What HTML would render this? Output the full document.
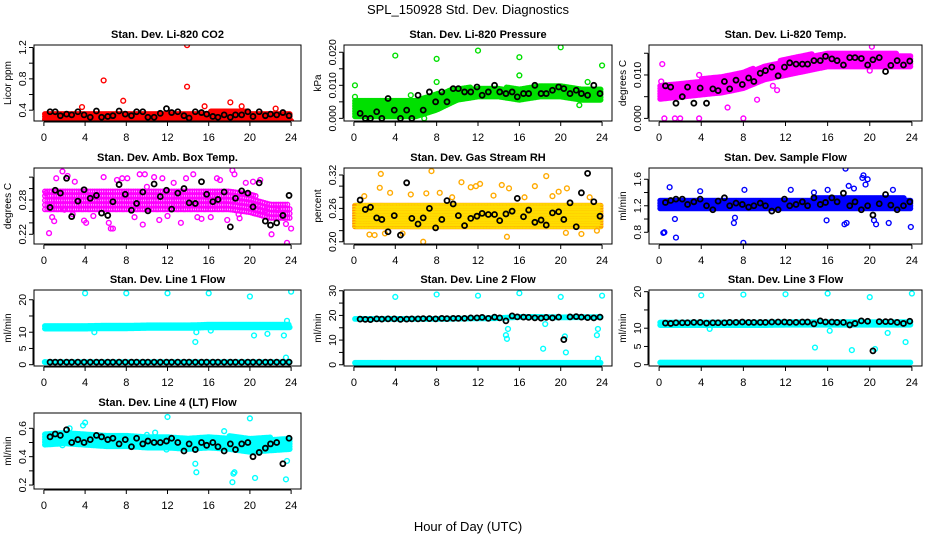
<!DOCTYPE html>
<html><head><meta charset="utf-8"><style>
html,body{margin:0;padding:0;background:#fff;}
svg{display:block;font-family:"Liberation Sans",sans-serif;}
</style></head><body>
<svg id="chart" width="936" height="540" viewBox="0 0 936 540" xmlns="http://www.w3.org/2000/svg">
<text x="468" y="14" text-anchor="middle" font-size="13">SPL_150928  Std. Dev. Diagnostics</text>
<text x="468" y="531" text-anchor="middle" font-size="13">Hour of Day (UTC)</text>
</svg>
<script>
const xTicks = [0,4,8,12,16,20,24];
const bandHours = [0,2,4,6,8,10,12,14,16,18,20,22,24];
const blackHours = [0.6,1.1,1.6,2.2,2.7,3.3,3.9,4.5,5.1,5.6,6.2,6.7,7.3,7.9,8.5,9.0,9.6,10.1,10.7,11.3,11.9,12.4,13.0,13.6,14.1,14.7,15.3,15.8,16.4,16.9,17.5,18.1,18.6,19.2,19.8,20.3,20.9,21.5,22.0,22.6,23.2,23.8];

const titles = ["Stan. Dev. Li-820 CO2","Stan. Dev. Li-820 Pressure","Stan. Dev. Li-820 Temp.","Stan. Dev. Amb. Box Temp.","Stan. Dev. Gas Stream RH","Stan. Dev. Sample Flow","Stan. Dev. Line 1 Flow","Stan. Dev. Line 2 Flow","Stan. Dev. Line 3 Flow","Stan. Dev. Line 4 (LT) Flow"];
const yTitles = ["Licor ppm","kPa","degrees C","degrees C","percent","ml/min","ml/min","ml/min","ml/min","ml/min"];
const yMins = [0.262,-0.0008,-0.0006,0.203,0.196,0.623,-0.4,-0.5,-0.35,0.172];
const yMaxs = [1.232,0.0222,0.0169,0.336,0.3326,1.77,23.0,30.3,20.46,0.708];
const yTickVals = [[0.4,0.6,0.8,1.0,1.2],[0,0.005,0.01,0.015,0.02],[0,0.005,0.01,0.015],[0.22,0.24,0.26,0.28,0.30,0.32],[0.20,0.22,0.24,0.26,0.28,0.30,0.32],[0.8,1.0,1.2,1.4,1.6],[0,5,10,15,20],[0,5,10,15,20,25,30],[0,5,10,15,20],[0.2,0.3,0.4,0.5,0.6]];
const yTickLabels = [["0.4","","0.8","","1.2"],["0.000","","0.010","","0.020"],["0.000","","0.010",""],["0.22","","","0.28","",""],["0.20","","","0.26","","","0.32"],["0.8","","1.2","","1.6"],["0","5","10","","20"],["0","","10","","20","","30"],["0","5","10","","20"],["0.2","","0.4","","0.6"]];
const colors = ["#ff0000","#00e000","#ff00ff","#ff00ff","#ffaa00","#0000ff","#00ffff","#00ffff","#00ffff","#00ffff"];

const bandLo = [
 [0.26,0.26,0.26,0.26,0.26,0.26,0.26,0.26,0.26,0.26,0.26,0.26,0.26],
 [0,0,0,0,0.002,0.005,0.006,0.006,0.005,0.006,0.006,0.005,0.005],
 [0.004,0.0045,0.005,0.0055,0.0065,0.0085,0.0095,0.0105,0.0115,0.0115,0.0115,0.0115,0.0115],
 [0.26,0.26,0.26,0.26,0.26,0.26,0.26,0.26,0.26,0.26,0.255,0.245,0.245],
 [0.224,0.224,0.224,0.224,0.224,0.224,0.224,0.224,0.224,0.224,0.224,0.224,0.224],
 [1.13,1.13,1.13,1.13,1.13,1.13,1.13,1.13,1.13,1.13,1.13,1.13,1.13],
 [10.5,10.5,10.5,10.6,10.6,10.7,10.7,10.7,10.9,10.9,10.9,10.9,10.9],
 [17.8,17.8,17.8,17.8,17.8,17.9,18.0,18.1,18.6,18.6,18.4,18.6,18.6],
 [10.3,10.3,10.3,10.3,10.3,10.3,10.4,10.4,10.4,10.4,10.4,10.4,10.4],
 [0.47,0.48,0.47,0.46,0.46,0.45,0.45,0.44,0.45,0.44,0.42,0.43,0.44]
];
const bandHi = [
 [0.40,0.40,0.41,0.40,0.41,0.40,0.41,0.40,0.41,0.42,0.41,0.41,0.40],
 [0.006,0.006,0.006,0.006,0.008,0.010,0.010,0.010,0.010,0.0105,0.0105,0.010,0.010],
 [0.0085,0.0085,0.0095,0.0105,0.0115,0.0125,0.0142,0.0152,0.0155,0.0155,0.0155,0.0155,0.0152],
 [0.305,0.305,0.305,0.305,0.305,0.305,0.305,0.305,0.305,0.305,0.295,0.28,0.275],
 [0.272,0.272,0.272,0.272,0.272,0.272,0.272,0.272,0.272,0.272,0.272,0.272,0.272],
 [1.34,1.34,1.34,1.34,1.34,1.34,1.34,1.34,1.36,1.36,1.36,1.36,1.34],
 [12.7,12.7,12.7,12.8,12.8,12.9,12.9,12.9,13.3,13.3,13.3,13.3,12.9],
 [19.4,19.4,19.4,19.4,19.4,19.5,19.6,19.7,20.2,20.2,20.0,20.0,20.0],
 [12.2,12.2,12.2,12.2,12.2,12.2,12.3,12.3,12.4,12.5,12.4,12.4,12.4],
 [0.58,0.59,0.58,0.57,0.57,0.57,0.56,0.56,0.56,0.56,0.54,0.55,0.55]
];
const band2Lo = [null,null,null,null,null,null,[0.2,0.2,0.2,0.2,0.2,0.2,0.2,0.2,0.2,0.2,0.2,0.2,0.2],[0,0,0,0,0,0,0,0,0,0,0,0,0],[0.1,0.1,0.1,0.1,0.1,0.1,0.1,0.1,0.1,0.1,0.1,0.1,0.1],null];
const band2Hi = [null,null,null,null,null,null,[1.4,1.4,1.4,1.4,1.4,1.4,1.4,1.4,1.4,1.4,1.4,1.4,1.4],[1.6,1.6,1.6,1.6,1.6,1.6,1.6,1.6,1.6,1.6,1.6,1.6,1.6],[1.1,1.1,1.1,1.1,1.1,1.1,1.1,1.1,1.1,1.1,1.1,1.1,1.1],null];

const blackVals = [
 [0.38,0.38,0.33,0.35,0.34,0.38,0.34,0.31,0.39,0.31,0.32,0.33,0.39,0.35,0.33,0.38,0.38,0.31,0.31,0.36,0.42,0.37,0.38,0.33,0.30,0.38,0.37,0.35,0.32,0.31,0.34,0.31,0.34,0.34,0.38,0.32,0.38,0.33,0.35,0.34,0.37,0.33],
 [0.0015,0,0,0.002,0,0.006,0.0025,0,0.0025,0,0.007,0.0025,0.008,0.005,0.008,0.005,0.009,0.009,0.008,0.008,0.0095,0.007,0.008,0.010,0.008,0.0075,0.008,0.0065,0.0075,0.0075,0.010,0.0075,0.0075,0.0085,0.0095,0.009,0.0075,0.0085,0.0075,0.007,0.010,0.0075],
 [0.0075,0.0072,0.0035,0.005,0.0072,0.0035,0.007,0.0035,0.0068,0.0064,0.0085,0.0068,0.0088,0.0078,0.0093,0.0085,0.0104,0.011,0.0118,0.0098,0.0118,0.0128,0.0125,0.0125,0.0125,0.0133,0.0133,0.0143,0.0137,0.0133,0.0123,0.014,0.014,0.0138,0.0123,0.0135,0.014,0.0108,0.0122,0.0133,0.0123,0.0132],
 [0.267,0.297,0.292,0.318,0.251,0.278,0.298,0.283,0.288,0.257,0.253,0.277,0.307,0.29,0.262,0.274,0.294,0.261,0.308,0.286,0.297,0.264,0.292,0.300,0.275,0.274,0.312,0.29,0.277,0.281,0.294,0.233,0.283,0.296,0.292,0.268,0.310,0.243,0.236,0.240,0.253,0.288],
 [0.275,0.258,0.262,0.243,0.240,0.218,0.247,0.212,0.306,0.242,0.232,0.243,0.260,0.225,0.240,0.274,0.268,0.247,0.229,0.242,0.246,0.251,0.249,0.249,0.238,0.250,0.255,0.278,0.245,0.257,0.235,0.239,0.230,0.252,0.254,0.240,0.270,0.227,0.288,0.323,0.272,0.246],
 [1.25,1.28,1.3,1.3,1.22,1.26,1.3,1.2,1.14,1.27,1.32,1.2,1.24,1.22,1.18,1.2,1.24,1.2,1.12,1.14,1.3,1.2,1.22,1.26,1.2,1.32,1.22,1.25,1.32,1.26,1.39,1.2,1.26,1.14,1.2,1.06,1.23,1.37,1.21,1.14,1.2,1.26],
 [0.8,0.8,0.8,0.8,0.8,0.8,0.8,0.8,0.8,0.8,0.8,0.8,0.8,0.8,0.8,0.8,0.8,0.8,0.8,0.8,0.8,0.8,0.8,0.8,0.8,0.8,0.8,0.8,0.8,0.8,0.8,0.8,0.8,0.8,0.8,0.8,0.8,0.8,0.8,0.8,0.8,0.8],
 [18.5,18.4,18.3,18.6,18.5,18.6,18.6,18.4,18.5,18.6,18.6,18.7,18.7,18.6,18.8,18.7,18.8,18.8,18.8,19.0,19.0,19.2,18.8,19.3,19.0,17.8,19.8,19.4,19.3,19.2,19.0,18.9,19.2,19.0,19.3,10.2,19.4,19.5,19.3,19.1,19.0,19.3],
 [11.4,11.3,11.5,11.5,11.5,11.6,11.6,11.4,11.5,11.5,11.5,11.6,11.6,11.7,11.6,11.6,11.6,11.6,11.7,11.7,11.7,11.6,11.6,11.7,11.7,11.2,12.0,11.7,11.7,11.6,11.6,10.9,11.3,12.0,11.9,3.8,11.8,11.8,11.8,11.6,11.3,11.9],
 [0.54,0.56,0.55,0.59,0.50,0.52,0.50,0.52,0.55,0.54,0.52,0.53,0.49,0.52,0.47,0.53,0.49,0.51,0.50,0.50,0.51,0.53,0.50,0.44,0.49,0.45,0.50,0.48,0.50,0.47,0.44,0.49,0.45,0.49,0.50,0.40,0.43,0.46,0.49,0.50,0.35,0.53]
];

const outHours = [
 [5.8,13.9,13.9,7.7,3.7,18.1,15.6,12.7,24,14.4,19.2,22.5],
 [0.1,4,8,8,12,16,16,20,24,21.8,22.6,0.1,0.3,1.2,2.4,6.8,5.5],
 [0.5,1.5,2,3.8,8,6.5,0.3,9.3,20.2,20,0.2,3.8,10.8,11.2],
 [0.5,2.3,1.8,0.2,1.0,2.0,3.9,4.1,6.3,6.5,7.1,8.1,9.3,9.6,9.8,11.2,12.6,13.3,14.5,15.3,17.8,18.3,18.5,19.6,20.3,21.5,22.1,22.7,23.5,23.6,24.0,5.2,6.7,10.0,17.1,1.2,3.0,4.8,7.6,8.8,10.7,12.0,13.8,16.2,16.8,19.0,21.0,0.8,2.8,5.8,11.5,14.9,18.9],
 [2.6,2.5,1.5,2.0,3.5,7.5,7.0,6.7,8.3,10.4,12.2,14.3,14.8,15.0,18.6,17.5,20.5,20.6,19.2,22.0,23.5,4.7,11.3,11.8,1.0,3.0,5.5,9.5,13.5,16.5,19.8,22.8],
 [0.4,0.5,1.6,8,1.0,1.5,3.9,7.2,7.1,8.1,15.9,17.7,17.8,17.6,18.0,19.3,19.4,19.6,19.8,20.4,20.6,21.8,22.2,23.9,12.5,14.7,16.0,18.5],
 [4,8,12,16,20,24,14.7,14.8,16.2,20.4,21.7,23.3,23.5,23.6,4.9,0.1],
 [4,8,12,16,20,24,14.7,14.8,14.9,18.3,20.5,20.4,23.5,23.6,23.6,18.5],
 [4,8,12,16,20,24,14.8,18.3,20.5,16.2,4.8,21.7,23.4],
 [4,12,20,14.7,14.8,18.3,18.4,18.5,20.5,23.5,23.6,3.8,11.9,2.5,10.8,17.5,1.8,5.5]
];
const outVals = [
 [0.78,1.23,0.70,0.52,0.44,0.50,0.45,0.24,0.26,0.26,0.45,0.42],
 [0.010,0.019,0.018,0.011,0.0205,0.0185,0.013,0.0215,0.016,0.004,0.011,0.0065,0.0015,0.003,0.0015,0,0.007],
 [0,0,0,0,0,0.0025,0.0125,0.0043,0.0165,0.011,0.0085,0.010,0.0075,0.0065],
 [0.222,0.322,0.33,0.292,0.243,0.263,0.244,0.24,0.24,0.23,0.315,0.318,0.325,0.237,0.325,0.245,0.31,0.24,0.325,0.247,0.245,0.332,0.325,0.31,0.312,0.262,0.22,0.262,0.238,0.205,0.23,0.285,0.23,0.303,0.315,0.318,0.312,0.252,0.318,0.25,0.32,0.252,0.318,0.25,0.318,0.248,0.315,0.25,0.255,0.32,0.318,0.25,0.255],
 [0.322,0.297,0.213,0.212,0.288,0.327,0.287,0.20,0.288,0.307,0.304,0.302,0.209,0.296,0.318,0.3,0.216,0.296,0.282,0.214,0.22,0.215,0.298,0.3,0.282,0.215,0.285,0.28,0.283,0.28,0.29,0.28],
 [0.79,0.80,0.72,0.64,1.48,1.0,1.42,1.02,0.94,1.44,0.98,1.76,0.94,0.92,1.50,1.62,1.66,1.52,1.60,0.98,0.92,0.94,1.44,0.88,1.44,1.40,1.44,1.46],
 [22,22,22,22,21,22.5,7,10,10.5,9,9.5,9,2.2,13.5,10,0.8],
 [27.5,28.5,28,29,27.5,28,12,10.5,14.5,6.5,5,11.5,12,14.5,2.5,16.5],
 [19,19.2,19.3,19.5,18.5,19.5,4.7,4,4.3,9.3,9.8,8.7,6.2],
 [0.64,0.68,0.67,0.35,0.29,0.22,0.28,0.29,0.25,0.24,0.37,0.62,0.45,0.60,0.57,0.58,0.48,0.48]
];

const colLeft = [34,344,649], colRight = [301,612,922];
const rowTop = [45,168,290,413], boxH = 76;
const NS = "http://www.w3.org/2000/svg";
const svg = document.getElementById('chart');
function mk(tag, attrs, parent){ const e=document.createElementNS(NS,tag); for(const k in attrs) e.setAttribute(k,attrs[k]); (parent||svg).appendChild(e); return e; }
function interp(arr,h){ const i=Math.min(Math.floor(h/2),11); const f=(h-bandHours[i])/2; return arr[i]+(arr[i+1]-arr[i])*f; }

for(let p=0;p<10;p++){
  const col=p%3, row=Math.floor(p/3);
  const L=colLeft[col], R=colRight[col], T=rowTop[row], B=T+boxH, W=R-L;
  const xScale = h => L + (h/24*(1/1.08) + 0.04/1.08)*W;
  const yScale = v => B - (v-yMins[p])/(yMaxs[p]-yMins[p])*boxH;
  const g = mk('g',{});
  
  
  const clip = mk('clipPath',{id:'c'+p},g); mk('rect',{x:L,y:T,width:W,height:boxH},clip);
  const t = mk('text',{x:(L+R)/2,y:T-7,'text-anchor':'middle','font-size':'11','font-weight':'bold'},g);
  t.textContent=titles[p];
  
  
  const yt = mk('text',{transform:`translate(${L-23},${(T+B)/2}) rotate(-90)`,'text-anchor':'middle','font-size':'10'},g);
  yt.textContent=yTitles[p];
  
  
  const mg = mk('g',{'clip-path':`url(#c${p})`,fill:'none','stroke-width':'1.4'},g);
  
  
  const col_ = colors[p];
  const sparse = (p===3);
  const drawBand=(lo,hi)=>{
    let path='';
    const step = sparse ? 0.22 : 0.09;
    const ystep = sparse ? 4.5 : 2.6;
    for(let h=0.1;h<=23.9;h+=step){
      const y1=yScale(interp(lo,h)), y2=yScale(interp(hi,h));
      const cx=xScale(h);
      for(let y=y1-2;y>=y2+2;y-=ystep){ path+=`M${(cx+2.2).toFixed(1)},${y.toFixed(1)}a2.2,2.2 0 1,0 -4.4,0a2.2,2.2 0 1,0 4.4,0`; }
      if(y1-y2<4){ const y=(y1+y2)/2; path+=`M${(cx+2.2).toFixed(1)},${y.toFixed(1)}a2.2,2.2 0 1,0 -4.4,0a2.2,2.2 0 1,0 4.4,0`; }
    }
    const pe=mk('path',{d:path,stroke:p===4?'#ff8c00':col_},mg);
    
    
    if(p===4){
      const pe2=mk('path',{d:path,stroke:'#ffdd00','stroke-width':'0.8','stroke-dasharray':'1.5 2'},mg);
      
      
    }
  };
  drawBand(bandLo[p],bandHi[p]);
  if(band2Lo[p]) drawBand(band2Lo[p],band2Hi[p]);
  for(let i=0;i<outHours[p].length;i++){
    const c=mk('circle',{cx:xScale(outHours[p][i]),cy:yScale(outVals[p][i]),r:2.4,stroke:p===4?'#ffaa00':col_},mg);
    
    
  }
  for(let i=0;i<blackHours.length;i++){
    const c=mk('circle',{cx:xScale(blackHours[i]),cy:yScale(blackVals[p][i]),r:2.5,stroke:'#000','stroke-width':'1.8'},mg);
    
    
  }
  const bx=mk('rect',{x:L,y:T,width:W,height:boxH,fill:'none',stroke:'#000','stroke-width':'1'},g);
  
  
  const xa=mk('g',{stroke:'#000','stroke-width':'1'},g);
  
  
  mk('line',{x1:xScale(0),x2:xScale(24),y1:B+1,y2:B+1},xa);
  xTicks.forEach(v=>{
    const x=xScale(v);
    mk('line',{x1:x,x2:x,y1:B+1,y2:B+5},xa);
    const tl=mk('text',{x:x,y:B+20,'text-anchor':'middle','font-size':'11',stroke:'none',fill:'#000'},xa);
    tl.textContent=v;
    
    
  });
  const ya=mk('g',{stroke:'#000','stroke-width':'1'},g);
  
  
  const tv=yTickVals[p];
  mk('line',{x1:L-1,x2:L-1,y1:yScale(tv[0]),y2:yScale(tv[tv.length-1])},ya);
  tv.forEach((v,i)=>{
    const y=yScale(v);
    mk('line',{x1:L-1,x2:L-5,y1:y,y2:y},ya);
    if(yTickLabels[p][i]){
      const tl=mk('text',{transform:`translate(${L-8},${y}) rotate(-90)`,'text-anchor':'middle','font-size':'10.5',stroke:'none',fill:'#000'},ya);
      tl.textContent=yTickLabels[p][i];
      
      
    }
  });
}
</script>
</body></html>
